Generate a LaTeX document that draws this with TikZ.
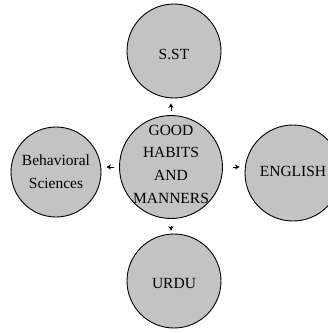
\documentclass[tikz,border=0pt]{standalone}
\usepackage{fontspec}
\setmainfont{Liberation Serif}
\usetikzlibrary{arrows.meta}
\definecolor{cfill}{RGB}{195,195,195}
\begin{document}
\begin{tikzpicture}[x=1pt,y=-1pt,
  bubble/.style={circle,draw=black,line width=0.9pt,fill=cfill,inner sep=0pt,
    font=\fontsize{15.5}{22.7}\selectfont,align=center},
  txt/.style={inner sep=0pt,font=\fontsize{15.5}{22.7}\selectfont,align=center},
  arr/.style={line width=1pt,-{Stealth[length=4.5pt,width=5pt]}}]
\useasboundingbox (0,0) rectangle (328,333);
\node[bubble,minimum size=94pt] (sst) at (174,51) {};
\node[txt] (sstt) at (174,54) {S.ST};
\node[bubble,minimum size=103pt] (c) at (171,167) {};
\node[txt] (ct) at (171,164) {GOOD\\HABITS\\AND\\MANNERS};
\node[bubble,minimum size=90pt] (l) at (56,172) {};
\node[txt] (lt) at (56,172) {Behavioral\\Sciences};
\node[bubble,minimum size=96pt] (r) at (293,173) {};
\node[txt] (rt) at (293,171) {ENGLISH};
\node[bubble,minimum size=94pt] (u) at (174,281) {};
\node[txt] (ut) at (174,283) {URDU};
\draw[arr,shorten <=4pt,shorten >=5pt] (c.north) -- (c.north |- sst.south);
\draw[arr,shorten <=5pt,shorten >=5pt] (c.west) -- (c.west -| l.east);
\draw[arr,shorten <=10pt,shorten >=5pt] (c.east) -- (c.east -| r.west);
\draw[arr,shorten <=7pt,shorten >=3pt] (c.south) -- (c.south |- u.north);
\end{tikzpicture}
\end{document}
